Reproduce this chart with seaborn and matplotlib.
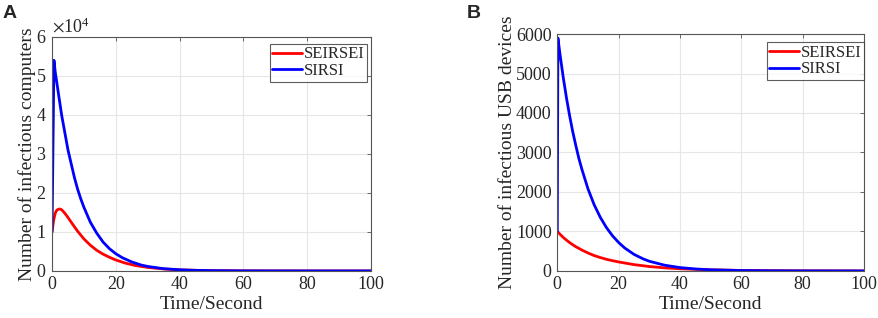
import numpy as np
import pandas as pd
import matplotlib
matplotlib.use("Agg")
import matplotlib.pyplot as plt
import seaborn as sns
from matplotlib.ticker import ScalarFormatter

# ---- Panel A data (infectious computers) ----
a_sirsi_t = [0, 0.6, 1, 2, 3, 4, 5, 6, 7, 8, 9, 10, 12, 14, 16, 18, 20, 22, 25, 28, 30, 35, 40, 45, 50, 60, 70, 80, 100]
a_sirsi_v = [10000, 54000, 51000, 45500, 40000, 35500, 31000, 27500, 24000, 21000, 18500, 16300, 12500, 9700,
             7400, 5700, 4400, 3400, 2300, 1500, 1150, 580, 300, 150, 80, 20, 5, 1, 0]
a_seir_t = [0, 0.5, 1, 1.5, 2.3, 3, 4, 5, 6, 8, 10, 12, 14, 16, 18, 20, 23, 26, 30, 35, 40, 50, 60, 70, 100]
a_seir_v = [10000, 13000, 14800, 15600, 15900, 15700, 14800, 13700, 12500, 10200, 8200, 6600, 5300, 4300,
            3500, 2800, 2000, 1400, 900, 500, 260, 70, 20, 5, 0]

# ---- Panel B data (infectious USB devices) ----
b_sirsi_t = [0, 0.2, 1, 2, 3, 4, 5, 6, 7, 8, 10, 12, 14, 16, 18, 20, 22, 25, 28, 30, 35, 40, 45, 50, 60, 70, 80, 100]
b_sirsi_v = [1000, 5900, 5420, 4870, 4380, 3940, 3540, 3190, 2860, 2580, 2080, 1680, 1360, 1100, 890, 720,
             580, 420, 305, 245, 145, 85, 50, 30, 10, 4, 1, 0]
b_seir_t = [0, 1, 2, 3, 4, 5, 6, 8, 10, 12, 14, 16, 18, 20, 25, 30, 35, 40, 50, 60, 70, 80, 100]
b_seir_v = [1000, 920, 845, 780, 720, 665, 615, 530, 455, 390, 340, 295, 260, 228, 160, 112, 78, 55, 27,
            13, 6, 3, 0]

series_names = ["SEIRSEI", "SIRSI"]
colors = {"SEIRSEI": "#ff0000", "SIRSI": "#0000ff"}

xticks = [0, 20, 40, 60, 80, 100]
a_yticks = [0, 10000, 20000, 30000, 40000, 50000, 60000]
b_yticks = [0, 1000, 2000, 3000, 4000, 5000, 6000]

sns.set_theme(style="whitegrid")
plt.rcParams["font.family"] = ["Liberation Serif", "DejaVu Serif"]
plt.rcParams["mathtext.fontset"] = "stix"

def make_df(t1, v1, t2, v2):
    return pd.concat([
        pd.DataFrame({"t": t1, "v": v1, "series": "SEIRSEI"}),
        pd.DataFrame({"t": t2, "v": v2, "series": "SIRSI"}),
    ], ignore_index=True)

dfa = make_df(a_seir_t, a_seir_v, a_sirsi_t, a_sirsi_v)
dfb = make_df(b_seir_t, b_seir_v, b_sirsi_t, b_sirsi_v)

fig = plt.figure(figsize=(8.79, 3.18), dpi=100)
axA = fig.add_axes([0.0592, 0.148, 0.363, 0.736])
axB = fig.add_axes([0.634, 0.148, 0.349, 0.745])

spine_c = "#555555"
text_c = "#262626"

for ax, df, yt, ylab, anchor in [
        (axA, dfa, a_yticks, "Number of infectious computers", (1 - 4 / 319, 1 - 7 / 234)),
        (axB, dfb, b_yticks, "Number of infectious USB devices", (1.0, 1 - 8 / 237))]:
    sns.lineplot(data=df, x="t", y="v", hue="series", hue_order=series_names, palette=colors,
                 linewidth=2, ax=ax, sort=False, estimator=None)
    ax.set_xlim(0, 100)
    ax.set_ylim(yt[0], yt[-1])
    ax.set_xticks(xticks)
    ax.set_yticks(yt)
    ax.set_facecolor("white")
    ax.grid(True, color="#e6e6e6", linewidth=0.8)
    for s in ax.spines.values():
        s.set_visible(True)
        s.set_color(spine_c)
        s.set_linewidth(0.8)
    ax.tick_params(direction="in", length=3, width=0.6, color=spine_c, top=True, right=True,
                   labelsize=13, labelcolor=text_c, pad=4)
    ax.set_xlabel("Time/Second", fontsize=14, color=text_c, labelpad=2)
    ax.set_ylabel(ylab, fontsize=14, color=text_c, labelpad=0)
    leg = ax.legend(loc="upper right", bbox_to_anchor=anchor, fontsize=12, frameon=True, fancybox=False,
                    borderpad=0.15, handlelength=1.8, handletextpad=0.1, labelspacing=0.05,
                    borderaxespad=0.0)
    leg.get_frame().set_edgecolor("#333333")
    leg.get_frame().set_linewidth(0.8)
    for line in leg.get_lines():
        line.set_linewidth(2)

fmt = ScalarFormatter(useMathText=True)
fmt.set_powerlimits((0, 0))
axA.yaxis.set_major_formatter(fmt)
axA.yaxis.get_offset_text().set_fontsize(13)
axA.yaxis.get_offset_text().set_color(text_c)

fig.text(0.003, 0.985, "A", fontsize=14, fontweight="bold", family="Liberation Sans", va="top", ha="left")
fig.text(0.531, 0.985, "B", fontsize=14, fontweight="bold", family="Liberation Sans", va="top", ha="left")

fig.savefig("out.png", dpi=100)
